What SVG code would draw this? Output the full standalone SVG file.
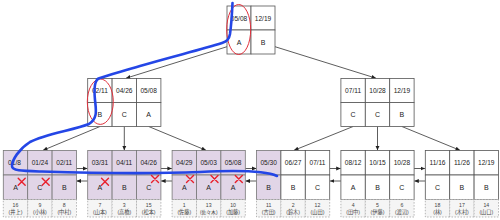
<svg xmlns="http://www.w3.org/2000/svg" width="500" height="220" viewBox="0 0 500 220">
<style>
.c{fill:#fff;stroke:#555;stroke-width:0.8}
.p{fill:#e1d5e7;stroke:#777;stroke-width:0.8}
.g{fill:#f5f5f5;stroke:#8a8a8a;stroke-width:0.6;stroke-dasharray:1.5 1.5}
text{font-family:"Liberation Sans",Arial,sans-serif;fill:#222;text-anchor:middle;dominant-baseline:central}
.t{font-size:6.6px}
.l{font-size:7px}
.n{font-size:5.2px;fill:#444;font-family:"Liberation Sans","Noto Sans CJK JP",sans-serif}
.e{fill:none;stroke:#333;stroke-width:0.8;marker-end:url(#ah)}
.x{stroke:#e8202c;stroke-width:1.4;fill:none;stroke-linecap:round}
</style>
<defs>
<marker id="ah" viewBox="0 0 6 6" refX="6" refY="3" markerWidth="4.5" markerHeight="4.5" markerUnits="userSpaceOnUse" orient="auto"><path d="M0,0.3 L6,3 L0,5.7 z" fill="#222"/></marker>
</defs>

<g id="connectors">
<path class="e" d="M227,46.7 L126,78.2"/>
<path class="e" d="M275,46.7 L376,78.2"/>
<path class="e" d="M100,126.5 L43,150.3"/>
<path class="e" d="M124.3,126.5 L124.3,150.3"/>
<path class="e" d="M148.7,126.5 L206,150.3"/>
<path class="e" d="M353.1,126.5 L294,150.3"/>
<path class="e" d="M377.5,126.5 L377.5,150.3"/>
<path class="e" d="M401.9,126.5 L460,150.3"/>
<path class="e" d="M76.5,168.5 L87.5,168.5"/>
<path class="e" d="M87.7,181 L76.7,181"/>
<path class="e" d="M160.9,168.5 L171.9,168.5"/>
<path class="e" d="M172.1,181 L161.1,181"/>
<path class="e" d="M245.3,168.5 L256.3,168.5"/>
<path class="e" d="M256.5,181 L245.5,181"/>
<path class="e" d="M329.7,168.5 L340.7,168.5"/>
<path class="e" d="M340.9,181 L329.9,181"/>
<path class="e" d="M414.1,168.5 L425.1,168.5"/>
<path class="e" d="M425.3,181 L414.3,181"/>
</g>

<g id="root">
<rect class="c" x="227" y="6" width="24" height="24"/><rect class="c" x="251" y="6" width="24" height="24"/>
<rect class="c" x="227" y="30" width="24" height="24"/><rect class="c" x="251" y="30" width="24" height="24"/>
<text class="t" x="239" y="18">05/08</text><text class="t" x="263" y="18">12/19</text>
<text class="l" x="239" y="42">A</text><text class="l" x="263" y="42">B</text>
</g>

<g id="inner-left">
<rect class="c" x="87.7" y="78.5" width="24.4" height="24"/><rect class="c" x="112.1" y="78.5" width="24.4" height="24"/><rect class="c" x="136.5" y="78.5" width="24.4" height="24"/>
<rect class="c" x="87.7" y="102.5" width="24.4" height="24"/><rect class="c" x="112.1" y="102.5" width="24.4" height="24"/><rect class="c" x="136.5" y="102.5" width="24.4" height="24"/>
<text class="t" x="99.9" y="90.5">02/11</text><text class="t" x="124.3" y="90.5">04/26</text><text class="t" x="148.7" y="90.5">05/08</text>
<text class="l" x="99.9" y="114.5">B</text><text class="l" x="124.3" y="114.5">C</text><text class="l" x="148.7" y="114.5">A</text>
</g>

<g id="inner-right">
<rect class="c" x="340.9" y="78.5" width="24.4" height="24"/><rect class="c" x="365.3" y="78.5" width="24.4" height="24"/><rect class="c" x="389.7" y="78.5" width="24.4" height="24"/>
<rect class="c" x="340.9" y="102.5" width="24.4" height="24"/><rect class="c" x="365.3" y="102.5" width="24.4" height="24"/><rect class="c" x="389.7" y="102.5" width="24.4" height="24"/>
<text class="t" x="353.1" y="90.5">07/11</text><text class="t" x="377.5" y="90.5">10/28</text><text class="t" x="401.9" y="90.5">12/19</text>
<text class="l" x="353.1" y="114.5">C</text><text class="l" x="377.5" y="114.5">C</text><text class="l" x="401.9" y="114.5">B</text>
</g>

<g id="leaf1">
<rect class="p" x="3.3" y="150.5" width="24.4" height="24.5"/><rect class="p" x="27.7" y="150.5" width="24.4" height="24.5"/><rect class="p" x="52.1" y="150.5" width="24.4" height="24.5"/>
<rect class="p" x="3.3" y="175" width="24.4" height="24.5"/><rect class="p" x="27.7" y="175" width="24.4" height="24.5"/><rect class="p" x="52.1" y="175" width="24.4" height="24.5"/>
<rect class="g" x="3.3" y="199.5" width="24.4" height="17.5"/><rect class="g" x="27.7" y="199.5" width="24.4" height="17.5"/><rect class="g" x="52.1" y="199.5" width="24.4" height="17.5"/>
<text class="t" x="14.5" y="162.7">01/8</text><text class="t" x="39.9" y="162.7">01/24</text><text class="t" x="64.3" y="162.7">02/11</text>
<text class="l" x="15.5" y="187.5">A</text><text class="l" x="39.9" y="187.5">C</text><text class="l" x="64.3" y="187.5">B</text>
<text class="n" x="15.5" y="204.5">16</text><text class="n" x="39.9" y="204.5">9</text><text class="n" x="64.3" y="204.5">8</text>
<text class="n" x="15.5" y="212.3">(井上)</text><text class="n" x="39.9" y="212.3">(小林)</text><text class="n" x="64.3" y="212.3">(中村)</text>
</g>

<g id="leaf2">
<rect class="p" x="87.7" y="150.5" width="24.4" height="24.5"/><rect class="p" x="112.1" y="150.5" width="24.4" height="24.5"/><rect class="p" x="136.5" y="150.5" width="24.4" height="24.5"/>
<rect class="p" x="87.7" y="175" width="24.4" height="24.5"/><rect class="p" x="112.1" y="175" width="24.4" height="24.5"/><rect class="p" x="136.5" y="175" width="24.4" height="24.5"/>
<rect class="g" x="87.7" y="199.5" width="24.4" height="17.5"/><rect class="g" x="112.1" y="199.5" width="24.4" height="17.5"/><rect class="g" x="136.5" y="199.5" width="24.4" height="17.5"/>
<text class="t" x="99.9" y="162.7">03/31</text><text class="t" x="124.3" y="162.7">04/11</text><text class="t" x="148.7" y="162.7">04/26</text>
<text class="l" x="99.9" y="187.5">A</text><text class="l" x="124.3" y="187.5">B</text><text class="l" x="148.7" y="187.5">C</text>
<text class="n" x="99.9" y="204.5">7</text><text class="n" x="124.3" y="204.5">3</text><text class="n" x="148.7" y="204.5">15</text>
<text class="n" x="99.9" y="212.3">(山本)</text><text class="n" x="124.3" y="212.3">(高橋)</text><text class="n" x="148.7" y="212.3">(松本)</text>
</g>

<g id="leaf3">
<rect class="p" x="172.1" y="150.5" width="24.4" height="24.5"/><rect class="p" x="196.5" y="150.5" width="24.4" height="24.5"/><rect class="p" x="220.9" y="150.5" width="24.4" height="24.5"/>
<rect class="p" x="172.1" y="175" width="24.4" height="24.5"/><rect class="p" x="196.5" y="175" width="24.4" height="24.5"/><rect class="p" x="220.9" y="175" width="24.4" height="24.5"/>
<rect class="g" x="172.1" y="199.5" width="24.4" height="17.5"/><rect class="g" x="196.5" y="199.5" width="24.4" height="17.5"/><rect class="g" x="220.9" y="199.5" width="24.4" height="17.5"/>
<text class="t" x="184.3" y="162.7">04/29</text><text class="t" x="208.7" y="162.7">05/03</text><text class="t" x="233.1" y="162.7">05/08</text>
<text class="l" x="184.3" y="187.5">A</text><text class="l" x="208.7" y="187.5">A</text><text class="l" x="233.1" y="187.5">A</text>
<text class="n" x="184.3" y="204.5">1</text><text class="n" x="208.7" y="204.5">13</text><text class="n" x="233.1" y="204.5">10</text>
<text class="n" x="184.3" y="212.3">(佐藤)</text><text class="n" x="208.7" y="212.3" style="font-size:4.8px">(佐々木)</text><text class="n" x="233.1" y="212.3">(加藤)</text>
</g>

<g id="leaf4">
<rect class="p" x="256.5" y="150.5" width="24.4" height="24.5"/><rect class="c" x="280.9" y="150.5" width="24.4" height="24.5"/><rect class="c" x="305.3" y="150.5" width="24.4" height="24.5"/>
<rect class="p" x="256.5" y="175" width="24.4" height="24.5"/><rect class="c" x="280.9" y="175" width="24.4" height="24.5"/><rect class="c" x="305.3" y="175" width="24.4" height="24.5"/>
<rect class="g" x="256.5" y="199.5" width="24.4" height="17.5"/><rect class="g" x="280.9" y="199.5" width="24.4" height="17.5"/><rect class="g" x="305.3" y="199.5" width="24.4" height="17.5"/>
<text class="t" x="268.7" y="162.7">05/30</text><text class="t" x="293.1" y="162.7">06/27</text><text class="t" x="317.5" y="162.7">07/11</text>
<text class="l" x="268.7" y="187.5">B</text><text class="l" x="293.1" y="187.5">B</text><text class="l" x="317.5" y="187.5">C</text>
<text class="n" x="268.7" y="204.5">11</text><text class="n" x="293.1" y="204.5">2</text><text class="n" x="317.5" y="204.5">12</text>
<text class="n" x="268.7" y="212.3">(吉田)</text><text class="n" x="293.1" y="212.3">(鈴木)</text><text class="n" x="317.5" y="212.3">(山田)</text>
</g>

<g id="leaf5">
<rect class="c" x="340.9" y="150.5" width="24.4" height="24.5"/><rect class="c" x="365.3" y="150.5" width="24.4" height="24.5"/><rect class="c" x="389.7" y="150.5" width="24.4" height="24.5"/>
<rect class="c" x="340.9" y="175" width="24.4" height="24.5"/><rect class="c" x="365.3" y="175" width="24.4" height="24.5"/><rect class="c" x="389.7" y="175" width="24.4" height="24.5"/>
<rect class="g" x="340.9" y="199.5" width="24.4" height="17.5"/><rect class="g" x="365.3" y="199.5" width="24.4" height="17.5"/><rect class="g" x="389.7" y="199.5" width="24.4" height="17.5"/>
<text class="t" x="353.1" y="162.7">08/12</text><text class="t" x="377.5" y="162.7">10/15</text><text class="t" x="401.9" y="162.7">10/28</text>
<text class="l" x="353.1" y="187.5">A</text><text class="l" x="377.5" y="187.5">B</text><text class="l" x="401.9" y="187.5">C</text>
<text class="n" x="353.1" y="204.5">4</text><text class="n" x="377.5" y="204.5">5</text><text class="n" x="401.9" y="204.5">6</text>
<text class="n" x="353.1" y="212.3">(田中)</text><text class="n" x="377.5" y="212.3">(伊藤)</text><text class="n" x="401.9" y="212.3">(渡辺)</text>
</g>

<g id="leaf6">
<rect class="c" x="425.3" y="150.5" width="24.4" height="24.5"/><rect class="c" x="449.7" y="150.5" width="24.4" height="24.5"/><rect class="c" x="474.1" y="150.5" width="24.4" height="24.5"/>
<rect class="c" x="425.3" y="175" width="24.4" height="24.5"/><rect class="c" x="449.7" y="175" width="24.4" height="24.5"/><rect class="c" x="474.1" y="175" width="24.4" height="24.5"/>
<rect class="g" x="425.3" y="199.5" width="24.4" height="17.5"/><rect class="g" x="449.7" y="199.5" width="24.4" height="17.5"/><rect class="g" x="474.1" y="199.5" width="24.4" height="17.5"/>
<text class="t" x="437.5" y="162.7">11/16</text><text class="t" x="461.9" y="162.7">11/26</text><text class="t" x="486.3" y="162.7">12/19</text>
<text class="l" x="437.5" y="187.5">C</text><text class="l" x="461.9" y="187.5">B</text><text class="l" x="486.3" y="187.5">B</text>
<text class="n" x="437.5" y="204.5">18</text><text class="n" x="461.9" y="204.5">17</text><text class="n" x="486.3" y="204.5">14</text>
<text class="n" x="437.5" y="212.3">(林)</text><text class="n" x="461.9" y="212.3">(木村)</text><text class="n" x="486.3" y="212.3">(山口)</text>
</g>

<g id="annotations">
<ellipse cx="238.7" cy="29.5" rx="12" ry="25" fill="none" stroke="#e0303c" stroke-width="1"/>
<ellipse cx="100.3" cy="101.7" rx="13" ry="22.7" fill="none" stroke="#e0303c" stroke-width="1"/>
<path class="x" d="M18.2,178.2 L25.2,185.2 M25.2,178.2 L18.2,185.2"/>
<path class="x" d="M42.2,178.2 L49.2,185.2 M49.2,178.2 L42.2,185.2"/>
<path class="x" d="M101.5,178.2 L108.5,185.2 M108.5,178.2 L101.5,185.2"/>
<path class="x" d="M151.5,175.5 L158.5,182.5 M158.5,175.5 L151.5,182.5"/>
<path class="x" d="M186.5,175.5 L193.5,182.5 M193.5,175.5 L186.5,182.5"/>
<path class="x" d="M211,175.5 L218,182.5 M218,175.5 L211,182.5"/>
<path class="x" d="M235.3,175.5 L242.3,182.5 M242.3,175.5 L235.3,182.5"/>
<path d="M232.5,3 C232,14 231,27 230,34 C229,40 226.5,41.5 222,43 C200,50 170,57 140,66 C120,72 106,75.5 98.5,78.5 C94,81 94,90 95,100 C96,110 98,118 89,124 C74,130 45,134 30,142 C19,149 12,160 12,166 C12,171 22,171 42,171.5 C90,173 150,174 200,172 C240,170 265,170.5 277,176" fill="none" stroke="#2446e6" stroke-width="2.6" stroke-linecap="round" stroke-linejoin="round"/>
</g>
</svg>
